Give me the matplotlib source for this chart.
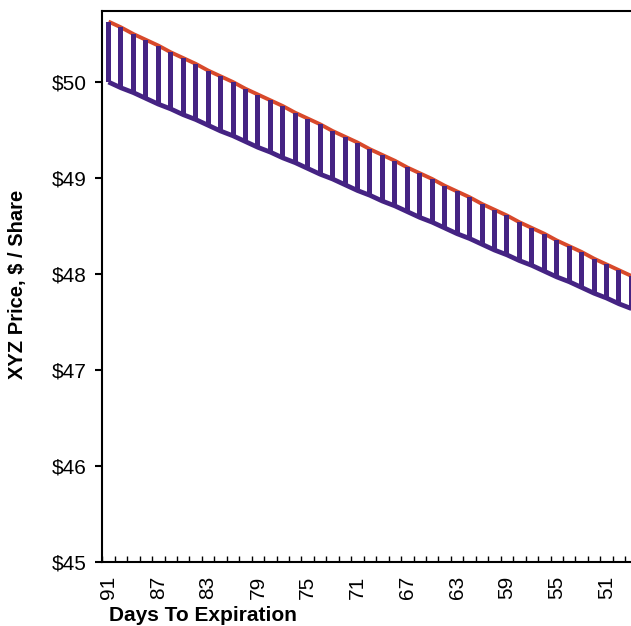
import matplotlib.pyplot as plt
from matplotlib.ticker import FixedLocator, FuncFormatter

days = list(range(91, 48, -1))  # 91 .. 49
upper = [50.63, 50.57, 50.50, 50.44, 50.38, 50.31, 50.25, 50.19, 50.12, 50.06,
         50.00, 49.93, 49.87, 49.81, 49.75, 49.68, 49.62, 49.56, 49.49, 49.43,
         49.37, 49.30, 49.24, 49.18, 49.11, 49.05, 48.99, 48.92, 48.86, 48.80,
         48.73, 48.67, 48.61, 48.54, 48.48, 48.42, 48.35, 48.29, 48.23, 48.16,
         48.10, 48.04, 47.98]
lower = [50.00, 49.94, 49.89, 49.83, 49.77, 49.72, 49.66, 49.61, 49.55, 49.49,
         49.44, 49.38, 49.32, 49.27, 49.21, 49.16, 49.10, 49.04, 48.99, 48.93,
         48.87, 48.82, 48.76, 48.71, 48.65, 48.59, 48.54, 48.48, 48.42, 48.37,
         48.31, 48.25, 48.20, 48.14, 48.09, 48.03, 47.97, 47.92, 47.86, 47.80,
         47.75, 47.69, 47.64]
label_days = [91, 87, 83, 79, 75, 71, 67, 63, 59, 55, 51]
y_ticks = [45, 46, 47, 48, 49, 50]

purple = "#452383"
red = "#d8492b"

plt.rcParams['font.family'] = ['Liberation Sans', 'DejaVu Sans']

fig = plt.figure(figsize=(6.31, 6.26), dpi=100)
ax = fig.add_axes([0.1621, 0.1022, 0.838, 0.8802])

x = list(range(len(days)))
ax.plot(x, upper, color=red, lw=2.8, zorder=2, solid_capstyle='butt')
ax.bar(x, [u - l for u, l in zip(upper, lower)], bottom=lower, width=0.4,
       color=purple, zorder=3)
ax.plot(x, lower, color=purple, lw=3.4, zorder=3, solid_capstyle='butt')

ax.set_xlim(-0.5, 41.97)
ax.set_ylim(45, 50.74)

# category labels every 4 days, tick marks between every category
ax.xaxis.set_major_locator(FixedLocator([days.index(d) for d in label_days]))
ax.xaxis.set_major_formatter(FuncFormatter(lambda v, p: str(days[int(round(v))])))
ax.xaxis.set_minor_locator(FixedLocator([i - 0.5 for i in range(len(days) + 1)]))
ax.tick_params(axis='x', which='major', length=0, pad=10, labelsize=15, labelrotation=90)
ax.tick_params(axis='x', which='minor', direction='in', length=4, width=1)

ax.set_yticks(y_ticks)
ax.set_yticklabels([f"${v}" for v in y_ticks])
ax.tick_params(axis='y', direction='out', length=5, width=1.5, pad=6, labelsize=15)

ax.spines['right'].set_visible(False)
for s in ['left', 'bottom', 'top']:
    ax.spines[s].set_linewidth(1.5)

fig.text(0.027, 0.546, "XYZ Price, $ / Share", rotation=90, ha='center', va='center',
         fontsize=14.5, fontweight='bold')
fig.text(0.322, 0.016, "Days To Expiration", ha='center', va='center',
         fontsize=15, fontweight='bold')

fig.savefig("out.png", dpi=100)
